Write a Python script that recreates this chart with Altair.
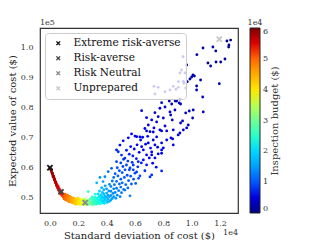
import altair as alt
import pandas as pd

# ---- scatter data: [std of cost, expected cost, inspection budget] ----
curve_pts = [
    [0, 60000, 60000], [40, 59600, 59700], [80, 59100, 59400], [120, 58600, 59100], [160, 58100, 58800],
    [200, 57600, 58500], [240, 57100, 58200], [280, 56600, 57900], [320, 56100, 57600], [360, 55600, 57300],
    [400, 55100, 57000], [440, 54700, 56600], [480, 54300, 56200], [520, 53900, 55800], [560, 53500, 55400],
    [600, 53100, 55000], [640, 52800, 54600], [680, 52500, 54200], [720, 52200, 53800], [760, 51900, 53400],
    [800, 51600, 53000], [840, 51300, 52600], [880, 51000, 52200], [920, 50800, 51800],
    [100, 59500, 59300], [180, 58200, 58700], [260, 57200, 58100], [340, 56300, 57500], [420, 55300, 56900],
    [500, 54400, 56100], [580, 53800, 55300], [660, 53000, 54400], [740, 52500, 53600], [820, 51900, 52800],
    [900, 51400, 52000], [980, 51000, 51400],
    [220, 57000, 58300], [300, 56000, 57700], [380, 55100, 57100], [460, 54100, 56400], [540, 53300, 55700],
    [620, 52500, 55000], [700, 51900, 54200], [780, 51200, 53400], [860, 50700, 52600], [940, 50300, 51800],
]
bend_pts = [
    [1000, 50800, 51000], [1000, 50200, 50800], [1000, 49700, 50600], [1050, 51200, 50500], [1100, 50600, 50000],
    [1100, 50000, 49800], [1100, 49400, 49600], [1150, 51000, 49500], [1200, 50400, 49000], [1200, 49800, 48800],
    [1200, 49200, 48600], [1250, 50900, 48600], [1300, 50200, 48000], [1300, 49600, 47800], [1300, 49000, 47600],
    [1350, 48700, 47200], [1400, 50500, 47200], [1400, 49900, 47000], [1400, 49300, 46800], [1450, 48700, 46400],
    [1500, 50200, 46200], [1500, 49600, 46000], [1500, 49000, 45800], [1550, 48500, 45400], [1600, 50000, 45200],
    [1600, 49400, 45000], [1600, 48800, 44800], [1650, 48300, 44400], [1700, 49800, 44200], [1700, 49200, 44000],
    [1700, 48600, 43800], [1750, 48100, 43400], [1800, 49600, 43200], [1800, 49000, 43000], [1800, 48400, 42800],
    [1850, 47900, 42400], [1900, 49400, 42200], [1900, 48800, 42000], [1900, 48200, 41800], [1950, 49900, 41800],
    [2000, 49200, 41000], [2000, 48600, 40800], [2000, 48000, 40600], [2050, 49700, 40400], [2100, 49000, 39800],
    [2100, 48400, 39600], [2100, 47900, 39400], [2200, 49400, 38600], [2200, 48800, 38400], [2200, 48200, 38200],
    [2250, 47800, 37800], [2300, 49100, 37200], [2300, 48500, 37000], [2350, 47900, 36600], [2400, 49600, 36200],
    [2400, 49000, 35800], [2400, 48400, 35600], [2450, 47800, 35200],
]
valley_pts = [
    [2500, 48600, 35000], [2500, 49300, 34600], [2550, 47900, 34400], [2600, 48400, 33600], [2600, 49100, 33000],
    [2650, 47800, 33000], [2700, 48300, 32000], [2700, 49000, 31400], [2700, 52100, 26000], [2750, 47900, 31000],
    [2800, 48500, 30400], [2800, 49400, 29400], [2850, 48000, 30000], [2900, 48700, 28800], [2900, 49800, 27600],
    [2950, 47900, 28800], [3000, 48400, 27800], [3000, 49200, 26800], [3000, 50300, 25400], [3050, 47800, 27600],
    [3100, 48800, 26200], [3100, 49700, 25200], [3150, 48200, 26200], [3200, 49100, 24800], [3200, 50200, 23800],
    [3200, 51200, 22600], [3250, 47900, 25600], [3300, 48600, 24400], [3300, 49600, 23400], [3300, 55000, 17000],
    [3350, 48100, 24600], [3400, 49000, 23000], [3400, 50100, 22000], [3400, 51300, 20800], [3450, 48400, 23400],
    [3500, 49400, 21800], [3500, 50600, 20800], [3500, 52300, 19200], [3530, 56800, 14000], [3550, 48000, 23200],
    [3600, 48800, 21800], [3600, 49900, 20600], [3600, 51000, 19600], [3650, 53400, 17400], [3700, 48400, 21600],
    [3700, 49300, 20400], [3700, 50400, 19400], [3700, 51800, 18200], [3750, 55400, 15400], [3800, 48900, 19800],
    [3800, 50000, 18800], [3800, 51300, 17600], [3800, 52700, 16600], [3850, 48200, 20800], [3880, 57000, 13400],
    [3900, 49500, 18600], [3900, 50600, 17600], [3900, 54000, 15400], [4000, 49000, 18400], [4000, 50200, 17200],
    [4000, 51600, 16000], [4000, 53000, 15200], [4050, 48500, 19000], [4100, 49700, 17000], [4100, 50900, 16000],
    [4110, 58700, 11800], [4150, 52300, 14800], [4200, 48900, 17200], [4200, 54500, 13600], [4200, 50400, 15800],
]
lower_pts = [
    [4300, 49300, 15600], [4300, 50800, 14400], [4300, 52200, 13600], [4300, 53800, 12800], [4350, 59800, 10400],
    [4400, 55600, 12000], [4400, 49800, 15000], [4450, 51500, 13800], [4500, 53000, 13000], [4500, 56800, 11200],
    [4500, 50400, 14400], [4550, 54400, 12200], [4600, 58000, 10600], [4600, 51800, 13200], [4650, 49900, 14600],
    [4700, 62000, 9200], [4700, 55500, 11400], [4700, 53200, 12400], [4700, 65890, 7800], [4750, 60000, 9800],
    [4750, 50900, 13600], [4800, 57300, 10600], [4820, 65300, 8200], [4850, 52400, 12600], [4900, 54600, 11400],
    [4900, 59000, 9800], [4940, 67500, 7600], [4950, 50400, 13400], [5000, 56200, 10600], [5000, 61600, 9000],
    [5000, 53600, 11800], [5050, 64200, 8400], [5050, 51700, 12600], [5100, 58400, 10000], [5100, 55000, 11000],
    [5150, 60400, 9200], [5170, 68900, 7200], [5200, 52800, 12000], [5200, 62800, 8600], [5250, 56800, 10200],
    [5290, 63200, 8400], [5290, 52600, 12000], [5300, 59300, 9400], [5350, 54400, 11000], [5400, 60900, 9000],
    [5400, 65800, 7800], [5450, 57500, 9800], [5500, 53300, 11400], [5500, 62200, 8600], [5530, 69900, 6800],
    [5550, 55700, 10400], [5600, 59300, 9200], [5600, 64500, 8000], [5650, 59900, 9000], [5650, 50700, 12800],
    [5700, 57200, 9800], [5700, 67000, 7200], [5750, 54600, 10800], [5760, 71200, 6400], [5800, 61800, 8400],
    [5850, 63900, 7800], [5880, 60900, 8400], [5880, 59300, 8800], [5900, 56200, 10000], [5950, 66200, 7200],
    [6000, 70500, 6400], [6000, 58200, 9200], [6050, 54800, 10600], [6100, 63000, 7800], [6120, 58600, 9000],
    [6120, 70300, 6200], [6150, 67600, 7000], [6200, 60300, 8400], [6230, 62000, 8000], [6250, 56500, 9600],
    [6300, 65100, 7200], [6350, 57300, 9200], [6350, 70200, 6000], [6400, 69200, 6200], [6450, 61600, 8000],
    [6470, 66990, 6800], [6470, 78900, 4800], [6540, 70100, 6000], [6590, 62580, 7600], [6590, 65890, 7000],
]
middle_pts = [
    [6700, 59000, 8400], [6700, 73000, 5600], [6750, 67800, 6400], [6820, 60930, 7800], [6820, 64240, 7000],
    [6820, 72190, 5600], [6820, 76590, 5000], [6900, 70400, 6000], [6940, 68210, 6200], [6940, 74170, 5400],
    [7010, 63250, 7200], [7060, 56950, 8800], [7060, 71950, 5600], [7100, 66500, 6400], [7180, 57620, 8400],
    [7180, 64240, 6800], [7180, 65230, 6600], [7180, 75830, 5000], [7250, 61500, 7400], [7290, 69200, 5800],
    [7290, 71850, 5400], [7340, 73180, 5200], [7410, 63250, 6800], [7410, 67550, 6000], [7410, 78250, 4400],
    [7500, 60200, 7600], [7530, 70200, 5600], [7530, 75170, 4800], [7600, 66800, 6000], [7640, 64570, 6400],
    [7640, 76920, 4600], [7760, 72520, 5000], [7760, 79700, 4200], [7880, 58940, 8000], [7880, 64800, 6400],
    [7880, 65890, 6200], [7880, 68210, 5800], [7880, 72190, 5000], [7880, 81550, 4000], [8000, 66560, 6000],
    [8000, 76490, 4600], [8120, 73840, 4800], [8120, 80130, 4000], [8240, 69200, 5400], [8240, 72190, 5000],
    [8420, 82120, 3800], [8470, 78480, 4200], [8520, 77480, 4200], [8540, 69870, 5200], [8590, 81130, 3800],
    [8630, 75830, 4400], [8660, 69540, 5200], [8700, 67550, 5400], [8700, 72520, 4800], [8820, 79140, 4000],
    [8840, 82120, 3600],
]
upper_pts = [
    [8940, 82120, 3600], [9050, 70860, 4800], [9120, 81460, 3600], [9170, 71520, 4600], [9170, 82780, 3400],
    [9220, 74830, 4200], [9220, 81130, 3600], [9360, 75500, 4200], [9410, 72520, 4400], [9580, 78150, 3800],
    [9650, 73180, 4200], [9760, 74170, 4000], [9830, 78810, 3600], [9880, 89400, 2600], [10000, 90070, 2400],
    [10070, 76490, 3800], [10090, 90730, 2400], [10110, 79140, 3400], [10190, 90400, 2400], [10350, 85760, 2800],
    [10350, 87090, 2600], [10370, 97470, 1800], [10630, 89070, 2400], [10780, 83440, 3000], [10800, 99670, 1600],
    [10820, 78480, 3400], [11150, 94700, 1800], [11340, 93700, 2000], [11500, 100000, 1400], [11700, 98700, 1400],
    [11720, 95030, 1800], [11950, 87850, 2400], [12050, 95030, 1600], [12350, 96030, 1600], [12490, 101990, 1200],
    [12610, 100000, 1200], [12630, 100660, 1200], [12750, 102300, 1000],
]
behind_legend_pts = [
    [7340, 86980, 3400], [7410, 84440, 3600], [7640, 86650, 3400], [8120, 85200, 3400], [8470, 85760, 3200],
    [8700, 86980, 3000], [8890, 86000, 3000], [9060, 86650, 3000], [9060, 88510, 2800], [9170, 91390, 2600],
    [9290, 92380, 2400], [9390, 96790, 2000], [9410, 88640, 2800], [9460, 87980, 2800], [9530, 91400, 2400],
    [9580, 86420, 2800], [9650, 94040, 2200], [9690, 88510, 2600],
]

# ---- named policies ----
labels = ["Extreme risk-averse", "Risk-averse", "Risk Neutral", "Unprepared"]
label_std = [0, 780, 2490, 11950]
label_mean = [60000, 52000, 48440, 102600]
label_colors = ["#151515", "#444444", "#8a8a8a", "#c8c8c8"]

# ---- axes ----
x_ticks = [0, 2000, 4000, 6000, 8000, 10000, 12000]
y_ticks = [50000, 60000, 70000, 80000, 90000, 100000]
budget_ticks = [0, 10000, 20000, 30000, 40000, 50000, 60000]

# jet colormap stops
jet_stops = [0, 6600, 7500, 20400, 22500, 38400, 39600, 53400, 54600, 60000]
jet_colors = ["#000080", "#0000ff", "#0000ff", "#00dbff", "#14ffe2",
              "#eeff08", "#ffec00", "#ff1300", "#e80000", "#800000"]

X_PATH = "M-1,-0.6L-0.6,-1L0,-0.4L0.6,-1L1,-0.6L0.4,0L1,0.6L0.6,1L0,0.4L-0.6,1L-1,0.6L-0.4,0Z"
FONT = "DejaVu Serif"

df = pd.DataFrame(curve_pts + bend_pts + valley_pts + lower_pts + middle_pts + upper_pts + behind_legend_pts,
                  columns=["std", "mean", "budget"])
sp = pd.DataFrame({"std": label_std, "mean": label_mean, "label": labels})

x_axis = alt.Axis(values=x_ticks, labelExpr="format(datum.value/10000, '.1f')",
                  labelOverlap=False, labelFlush=False, labelBound=False,
                  title="Standard deviation of cost ($)", labelPadding=6, titlePadding=3)
y_axis = alt.Axis(values=y_ticks, labelExpr="format(datum.value/100000, '.1f')",
                  labelOverlap=False, labelFlush=False, labelBound=False,
                  title="Expected value of cost ($)", labelPadding=7, titlePadding=3)
xenc = alt.X("std:Q", scale=alt.Scale(domain=[-700, 13270], nice=False, zero=False), axis=x_axis)
yenc = alt.Y("mean:Q", scale=alt.Scale(domain=[45000, 106300], nice=False, zero=False), axis=y_axis)

scatter = alt.Chart(df).mark_circle(size=8, opacity=1).encode(
    x=xenc, y=yenc,
    color=alt.Color("budget:Q",
                    scale=alt.Scale(domain=jet_stops, range=jet_colors, clamp=True),
                    legend=alt.Legend(orient="none", legendX=210, legendY=0, direction="vertical",
                                      gradientLength=185, gradientThickness=10,
                                      values=budget_ticks,
                                      labelExpr="format(datum.value/10000, 'd')",
                                      title=None,
                                      labelFontSize=8, labelOverlap=False, labelOffset=3,
                                      gradientStrokeColor="#222222", gradientStrokeWidth=1,
                                      padding=0)),
)

special = alt.Chart(sp).mark_point(shape=X_PATH, filled=True, size=42, opacity=1).encode(
    x=xenc, y=yenc,
    color=alt.Color("label:N",
                    scale=alt.Scale(domain=labels, range=label_colors),
                    legend=alt.Legend(orient="none", legendX=5, legendY=5, title=None,
                                      symbolType=X_PATH, symbolSize=22, symbolOpacity=1,
                                      labelFontSize=10.5, labelOffset=10, labelColor="#111111",
                                      rowPadding=4, padding=5, offset=0,
                                      fillColor="rgba(255,255,255,0.8)", strokeColor="#cccccc",
                                      cornerRadius=3, symbolOffset=3)),
)

def note(txt, px, py, align, size=8, angle=0):
    return alt.Chart(pd.DataFrame({"t": [txt]})).mark_text(
        font=FONT, fontSize=size, color="#333333", align=align, baseline="middle", angle=angle
    ).encode(text="t:N", x=alt.value(px), y=alt.value(py))

chart = alt.layer(
    scatter, special,
    note("1e5", 0, -5, "left"),
    note("1e4", 198, 205, "right"),
    note("1e4", 215, -5, "center"),
    note("Inspection budget ($)", 235, 93, "center", size=10, angle=270),
).resolve_scale(color="independent").properties(
    width=198, height=185,
    autosize=alt.AutoSizeParams(type="none"),
    padding={"left": 32, "top": 20, "right": 74, "bottom": 27},
    background="white",
).configure_view(
    stroke="#333333", strokeWidth=1.2
).configure_axis(
    labelFont=FONT, titleFont=FONT, labelFontSize=8, titleFontSize=10,
    labelColor="#333333", titleColor="#222222", titleFontWeight="normal",
    ticks=False, domain=False, grid=False, labelOverlap=False,
).configure_legend(
    labelFont=FONT, titleFont=FONT, labelColor="#333333", titleColor="#222222",
)

chart.save("out.html", embed_options={"renderer": "svg", "actions": False})
